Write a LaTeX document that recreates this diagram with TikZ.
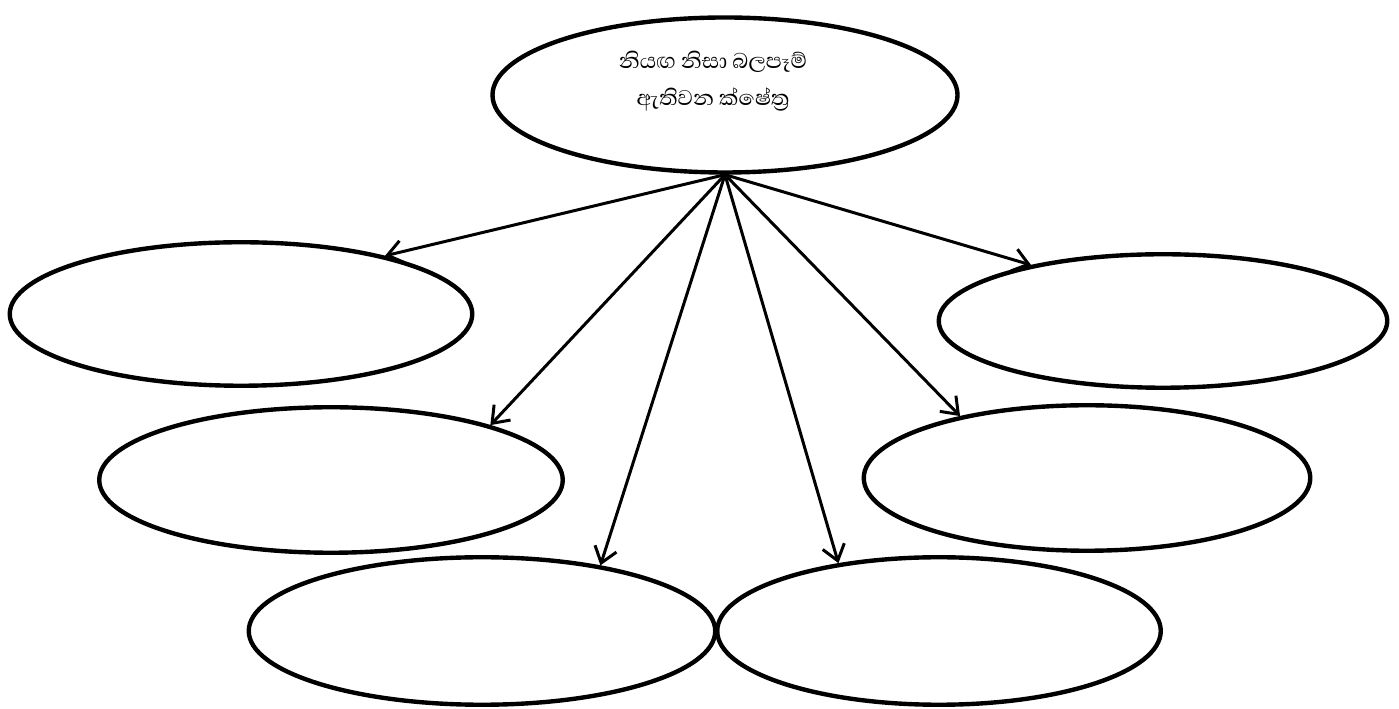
\documentclass[tikz,border=0pt]{standalone}
\usepackage{fontspec}
\newfontfamily\sinhalafont[Script=Sinhala]{Abhaya Libre}
\usetikzlibrary{arrows.meta}
\usetikzlibrary{shapes.geometric}
\begin{document}
\begin{tikzpicture}[
  oval/.style={ellipse, draw, line width=2.5pt, inner sep=0pt},
  flecha/.style={line width=1.7pt, -{Straight Barb[length=3mm, width=4.5mm, line width=1.7pt]}}
]
\useasboundingbox (0,0) rectangle (27.98,14.18);

% Elipse central
\node[oval, minimum width=9.3cm, minimum height=3.1cm] (top) at (14.50, 12.28) {};
\node[align=center, font=\sinhalafont\fontsize{15.5}{21}\selectfont] (toptxt) at (14.26, 12.56) {නියඟ නිසා බලපෑම්\\ඇතිවන ක්ෂේත්‍ර};

% Elipses vacias
\node[oval, minimum width=9.25cm, minimum height=2.87cm] (izq1) at (4.82, 7.90) {};
\node[oval, minimum width=8.97cm, minimum height=2.67cm] (der1) at (23.26, 7.76) {};
\node[oval, minimum width=9.27cm, minimum height=2.91cm] (izq2) at (6.62, 4.58) {};
\node[oval, minimum width=8.93cm, minimum height=2.91cm] (der2) at (21.74, 4.62) {};
\node[oval, minimum width=9.33cm, minimum height=2.95cm] (izq3) at (9.64, 1.56) {};
\node[oval, minimum width=8.87cm, minimum height=2.95cm] (der3) at (18.78, 1.56) {};

% Flechas
\draw[flecha] (top.south) -- (izq1.22);
\draw[flecha] (top.south) -- (der1.157);
\draw[flecha] (top.south) -- (izq2.19);
\draw[flecha] (top.south) -- (der2.154);
\draw[flecha] (top.south) -- (izq3.29);
\draw[flecha] (top.south) -- (der3.146);

\end{tikzpicture}
\end{document}
